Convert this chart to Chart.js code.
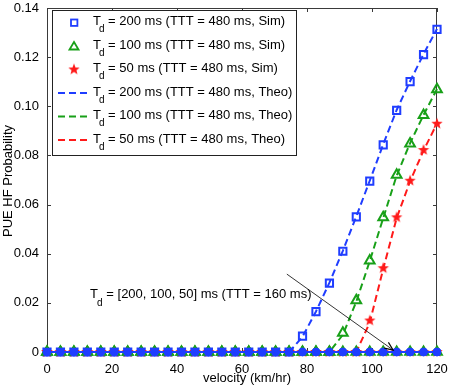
<!DOCTYPE html>
<html>
<head>
<meta charset="utf-8">
<script src="https://cdn.jsdelivr.net/npm/chart.js@4/dist/chart.umd.min.js"></script>
<style>
  html, body { margin: 0; padding: 0; background: #fff; }
  #wrap { width: 450px; height: 387px; }
</style>
</head>
<body>
<div id="wrap"><canvas id="c" width="450" height="387"></canvas></div>
<script>
// velocity samples (km/hr)
const velocity = [0, 4.14, 8.28, 12.41, 16.55, 20.69, 24.83, 28.97, 33.10, 37.24,
  41.38, 45.52, 49.66, 53.79, 57.93, 62.07, 66.21, 70.34, 74.48, 78.62,
  82.76, 86.90, 91.03, 95.17, 99.31, 103.45, 107.59, 111.72, 115.86, 120];

// TTT = 480 ms, simulation
const sim200 = [0, 0, 0, 0, 0, 0, 0, 0, 0, 0, 0, 0, 0, 0, 0, 0, 0, 0, 0,
  0.0065, 0.0164, 0.0280, 0.0410, 0.0550, 0.0695, 0.0843, 0.0983, 0.1100, 0.1210, 0.1313];
const sim100 = [0, 0, 0, 0, 0, 0, 0, 0, 0, 0, 0, 0, 0, 0, 0, 0, 0, 0, 0,
  0, 0, 0, 0.0078, 0.0210, 0.0372, 0.0548, 0.0721, 0.0848, 0.0964, 0.1069];
const sim50 = [0, 0, 0, 0, 0, 0, 0, 0, 0, 0, 0, 0, 0, 0, 0, 0, 0, 0, 0,
  0, 0, 0, 0, 0, 0.0128, 0.0341, 0.0548, 0.0697, 0.0822, 0.0929];

// TTT = 480 ms, theory
const theo200 = [0, 0, 0, 0, 0, 0, 0, 0, 0, 0, 0, 0, 0, 0, 0, 0, 0, 0, 0,
  0.0062, 0.0165, 0.0282, 0.0412, 0.0552, 0.0697, 0.0845, 0.0985, 0.1102, 0.1212, 0.1315];
const theo100 = [0, 0, 0, 0, 0, 0, 0, 0, 0, 0, 0, 0, 0, 0, 0, 0, 0, 0, 0,
  0, 0, 0, 0.0070, 0.0205, 0.0370, 0.0545, 0.0718, 0.0850, 0.0965, 0.1070];
const theo50 = [0, 0, 0, 0, 0, 0, 0, 0, 0, 0, 0, 0, 0, 0, 0, 0, 0, 0, 0,
  0, 0, 0, 0, 0, 0.0120, 0.0338, 0.0545, 0.0695, 0.0820, 0.0930];

// TTT = 160 ms, all three Td values stay at zero
const ttt160 = [0, 0, 0, 0, 0, 0, 0, 0, 0, 0, 0, 0, 0, 0, 0, 0, 0, 0, 0,
  0, 0, 0, 0, 0, 0, 0, 0, 0, 0, 0];

const xTicks = [0, 20, 40, 60, 80, 100, 120];
const yTicks = [0, 0.02, 0.04, 0.06, 0.08, 0.1, 0.12, 0.14];

const legendLabels = [
  ' = 200 ms (TTT = 480 ms, Sim)',
  ' = 100 ms (TTT = 480 ms, Sim)',
  ' = 50 ms (TTT = 480 ms, Sim)',
  ' = 200 ms (TTT = 480 ms, Theo)',
  ' = 100 ms (TTT = 480 ms, Theo)',
  ' = 50 ms (TTT = 480 ms, Theo)',
];
const noteLabel = ' = [200, 100, 50] ms (TTT = 160 ms)';
const xTitle = 'velocity (km/hr)';
const yTitle = 'PUE HF Probability';

const BLUE = '#1f3dff', GREEN = '#18a018', RED = '#ff1a1a', AXIS = '#3a3a3a';
const FONT = '"Liberation Sans", Arial, sans-serif';

function pts(arr) { return velocity.map((v, i) => ({ x: v, y: arr[i] })); }

function starImage(r, color) {
  const c = document.createElement('canvas');
  const s = Math.ceil(r * 2 + 2);
  c.width = s; c.height = s;
  const g = c.getContext('2d');
  g.fillStyle = color;
  g.beginPath();
  for (let k = 0; k < 10; k++) {
    const rad = k % 2 ? r * 0.42 : r;
    const a = -Math.PI / 2 + k * Math.PI / 5;
    g.lineTo(s / 2 + rad * Math.cos(a), s / 2 + rad * Math.sin(a));
  }
  g.closePath();
  g.fill();
  return c;
}
const STAR = starImage(6, RED);

function markers(arr, style, color, order) {
  return {
    data: pts(arr), showLine: false, order, clip: false,
    pointStyle: style, pointRadius: style === 'rect' ? 5.1 : 5.6,
    pointBorderColor: color, pointBackgroundColor: 'rgba(0,0,0,0)', pointBorderWidth: 2,
  };
}
function dashed(arr, color, order) {
  return {
    data: pts(arr), showLine: true, order, clip: false, borderColor: color, borderWidth: 2,
    borderDash: [7, 4], pointRadius: 0, fill: false,
  };
}

// box, inward ticks (MATLAB style), titles, legend and annotation
const frame = {
  id: 'frame',
  beforeDatasetsDraw(chart) {
    const { ctx, chartArea: a, scales: { x, y } } = chart;
    ctx.save();
    ctx.strokeStyle = AXIS; ctx.lineWidth = 1;
    ctx.beginPath();
    xTicks.forEach(v => {
      const px = Math.round(x.getPixelForValue(v)) + 0.5;
      ctx.moveTo(px, a.bottom); ctx.lineTo(px, a.bottom - 4);
      ctx.moveTo(px, a.top); ctx.lineTo(px, a.top + 4);
    });
    yTicks.forEach(v => {
      const py = Math.round(y.getPixelForValue(v)) + 0.5;
      ctx.moveTo(a.left, py); ctx.lineTo(a.left + 4, py);
      ctx.moveTo(a.right, py); ctx.lineTo(a.right - 4, py);
    });
    ctx.stroke();
    ctx.strokeRect(a.left + 0.5, a.top + 0.5, a.right - a.left - 1, a.bottom - a.top - 1);

    // axis titles
    ctx.fillStyle = '#000'; ctx.font = '13px ' + FONT;
    ctx.textAlign = 'center'; ctx.textBaseline = 'middle';
    ctx.fillText(xTitle, 247, 378);
    ctx.translate(8.5, 181); ctx.rotate(-Math.PI / 2);
    ctx.fillText(yTitle, 0, 0);
    ctx.restore();
  },
  afterDraw(chart) {
    const { ctx, scales: { x, y } } = chart;
    ctx.save();
    // annotation arrow
    const x0 = x.getPixelForValue(73.8), y0 = y.getPixelForValue(0.0317);
    const x1 = x.getPixelForValue(106.5), y1 = y.getPixelForValue(0.0008);
    ctx.strokeStyle = '#000'; ctx.lineWidth = 0.8;
    ctx.beginPath(); ctx.moveTo(x0, y0); ctx.lineTo(x1, y1); ctx.stroke();
    const ang = Math.atan2(y1 - y0, x1 - x0);
    ctx.lineWidth = 1.2;
    ctx.beginPath();
    ctx.moveTo(x1 - 9 * Math.cos(ang - 0.4), y1 - 9 * Math.sin(ang - 0.4));
    ctx.lineTo(x1, y1);
    ctx.lineTo(x1 - 9 * Math.cos(ang + 0.4), y1 - 9 * Math.sin(ang + 0.4));
    ctx.stroke();
    // annotation text
    ctx.fillStyle = '#000'; ctx.textBaseline = 'alphabetic'; ctx.textAlign = 'left';
    const tx = x.getPixelForValue(13.2), ty = y.getPixelForValue(0.0218);
    ctx.font = '13px ' + FONT; ctx.fillText('T', tx, ty);
    ctx.font = '10px ' + FONT; ctx.fillText('d', tx + 7.2, ty + 7.5);
    ctx.font = '13px ' + FONT; ctx.fillText(noteLabel, tx + 12.8, ty);

    // legend box
    ctx.fillStyle = '#fff'; ctx.fillRect(52, 10, 244, 145);
    ctx.strokeStyle = '#222'; ctx.lineWidth = 1;
    ctx.strokeRect(52.5, 10.5, 244, 145);
    const colors = [BLUE, GREEN, RED, BLUE, GREEN, RED];
    legendLabels.forEach((lab, i) => {
      const cy = 22.5 + 23.5 * i, base = 25 + 23.5 * i;
      const col = colors[i];
      ctx.strokeStyle = col; ctx.fillStyle = col;
      if (i === 0) {
        ctx.lineWidth = 1.8; ctx.strokeRect(74 - 3, cy - 3, 6.4, 6.4);
      } else if (i === 1) {
        ctx.lineWidth = 1.8;
        ctx.beginPath(); ctx.moveTo(74, cy - 4); ctx.lineTo(78.5, cy + 3.5); ctx.lineTo(69.5, cy + 3.5);
        ctx.closePath(); ctx.stroke();
      } else if (i === 2) {
        ctx.drawImage(STAR, 74 - STAR.width / 2, cy - STAR.height / 2);
      } else {
        ctx.lineWidth = 2; ctx.setLineDash([7, 4]);
        ctx.beginPath(); ctx.moveTo(58, cy); ctx.lineTo(90, cy); ctx.stroke();
        ctx.setLineDash([]);
      }
      ctx.fillStyle = '#000';
      ctx.font = '13px ' + FONT; ctx.fillText('T', 93, base);
      ctx.font = '10px ' + FONT; ctx.fillText('d', 99, base + 7);
      ctx.font = '13px ' + FONT; ctx.fillText(lab, 104.5, base);
    });
    ctx.restore();
  }
};

new Chart(document.getElementById('c'), {
  type: 'scatter',
  data: {
    datasets: [
      // TTT = 160 ms (all zero), blue on top
      { data: pts(ttt160), showLine: true, order: 0, clip: false, borderColor: BLUE, borderWidth: 2.2,
        pointStyle: 'circle', pointRadius: 4, pointBackgroundColor: BLUE, pointBorderColor: BLUE, pointBorderWidth: 1 },
      { data: pts(ttt160), showLine: true, order: 1, clip: false, borderColor: GREEN, borderWidth: 2,
        pointStyle: 'triangle', pointRadius: 5.6, pointBackgroundColor: 'rgba(0,0,0,0)', pointBorderColor: GREEN, pointBorderWidth: 2 },
      { data: pts(ttt160), showLine: true, order: 2, clip: false, borderColor: RED, borderWidth: 2,
        pointStyle: STAR, pointRadius: 6 },
      markers(sim200, 'rect', BLUE, 3),
      markers(sim100, 'triangle', GREEN, 4),
      { data: pts(sim50), showLine: false, order: 5, clip: false, pointStyle: STAR, pointRadius: 6 },
      dashed(theo200, BLUE, 6),
      dashed(theo100, GREEN, 7),
      dashed(theo50, RED, 8),
    ],
  },
  options: {
    responsive: false, animation: false,
    layout: { padding: { top: 7, right: 13, left: 0, bottom: 0 } },
    plugins: { legend: { display: false }, tooltip: { enabled: false } },
    scales: {
      x: {
        type: 'linear', min: 0, max: 120,
        afterBuildTicks: s => { s.ticks = xTicks.map(v => ({ value: v })); },
        afterFit: s => { s.height = 35; },
        grid: { display: false }, border: { display: false },
        ticks: { color: '#000', font: { family: FONT, size: 13 }, padding: 2, maxRotation: 0 },
      },
      y: {
        type: 'linear', min: 0, max: 0.14,
        afterBuildTicks: s => { s.ticks = yTicks.map(v => ({ value: v })); },
        afterFit: s => { s.width = 47; },
        grid: { display: false }, border: { display: false },
        ticks: { color: '#000', font: { family: FONT, size: 13 }, padding: 0 },
      },
    },
  },
  plugins: [frame],
});
</script>
</body>
</html>
